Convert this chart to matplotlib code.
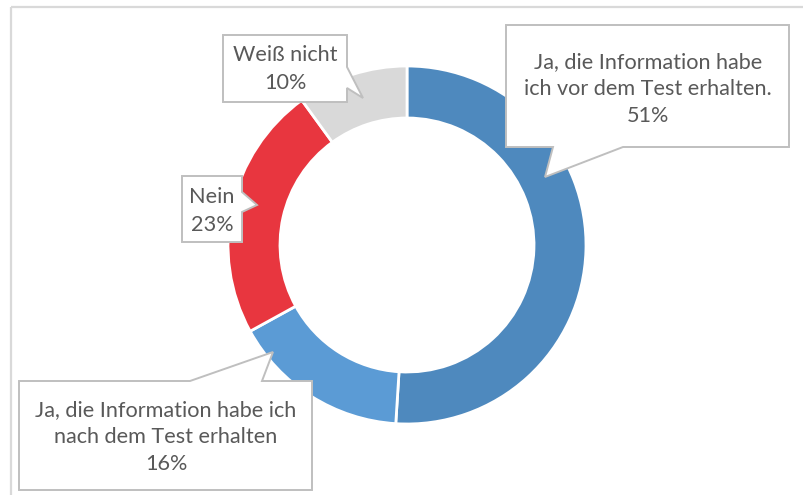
import matplotlib.pyplot as plt
from matplotlib.patches import Polygon

# survey answers, clockwise from 12 o'clock
labels = ["Ja, die Information habe\nich vor dem Test erhalten.",
          "Ja, die Information habe ich\nnach dem Test erhalten",
          "Nein",
          "Weiß nicht"]
values = [51, 16, 23, 10]
colors = ["#4E89BE", "#5B9BD5", "#E8363F", "#D9D9D9"]

W, H = 804, 495


def up(y):
    # pixel rows are counted from the top, the axes from the bottom
    return H - y


# callout outlines (pixel coords, y down) and text centres
callouts = [
    [(506, 25), (789, 25), (789, 147), (623, 147), (545, 177), (553, 147), (506, 147)],
    [(19, 381), (190, 381), (273, 352), (262, 381), (312, 381), (312, 490), (19, 490)],
    [(182, 176), (242, 176), (242, 192), (257, 205), (242, 212), (242, 242), (182, 242)],
    [(223, 35), (347, 35), (347, 67), (363, 98), (347, 88), (347, 102), (223, 102)],
]
text_pos = [(648, 89), (166, 437), (212, 211), (285, 69)]

fig = plt.figure(figsize=(W / 100, H / 100), dpi=100)
ax = fig.add_axes([0, 0, 1, 1])

ax.pie(values, colors=colors, startangle=90, counterclock=False,
       center=(407, up(245)), radius=179,
       wedgeprops=dict(width=52, edgecolor="white", linewidth=2))

ax.set_xlim(0, W)
ax.set_ylim(0, H)
ax.set_aspect("equal")
ax.axis("off")

# chart area frame (only top and left are visible)
ax.plot([11, 11], [0, up(7)], color="#D9D9D9", lw=1.6, solid_capstyle="butt")
ax.plot([11, W], [up(7), up(7)], color="#D9D9D9", lw=1.6, solid_capstyle="butt")

for lab, val, pts, (tx, ty) in zip(labels, values, callouts, text_pos):
    poly = Polygon([(x, up(y)) for x, y in pts], closed=True,
                   facecolor="white", edgecolor="#BFBFBF", lw=1.4, zorder=3)
    ax.add_patch(poly)
    ax.text(tx, up(ty), f"{lab}\n{val}%", ha="center", va="center",
            multialignment="center", fontsize=15.6, family="Lato",
            color="#595959", linespacing=1.45, zorder=4)

fig.savefig("out.png", dpi=100)
